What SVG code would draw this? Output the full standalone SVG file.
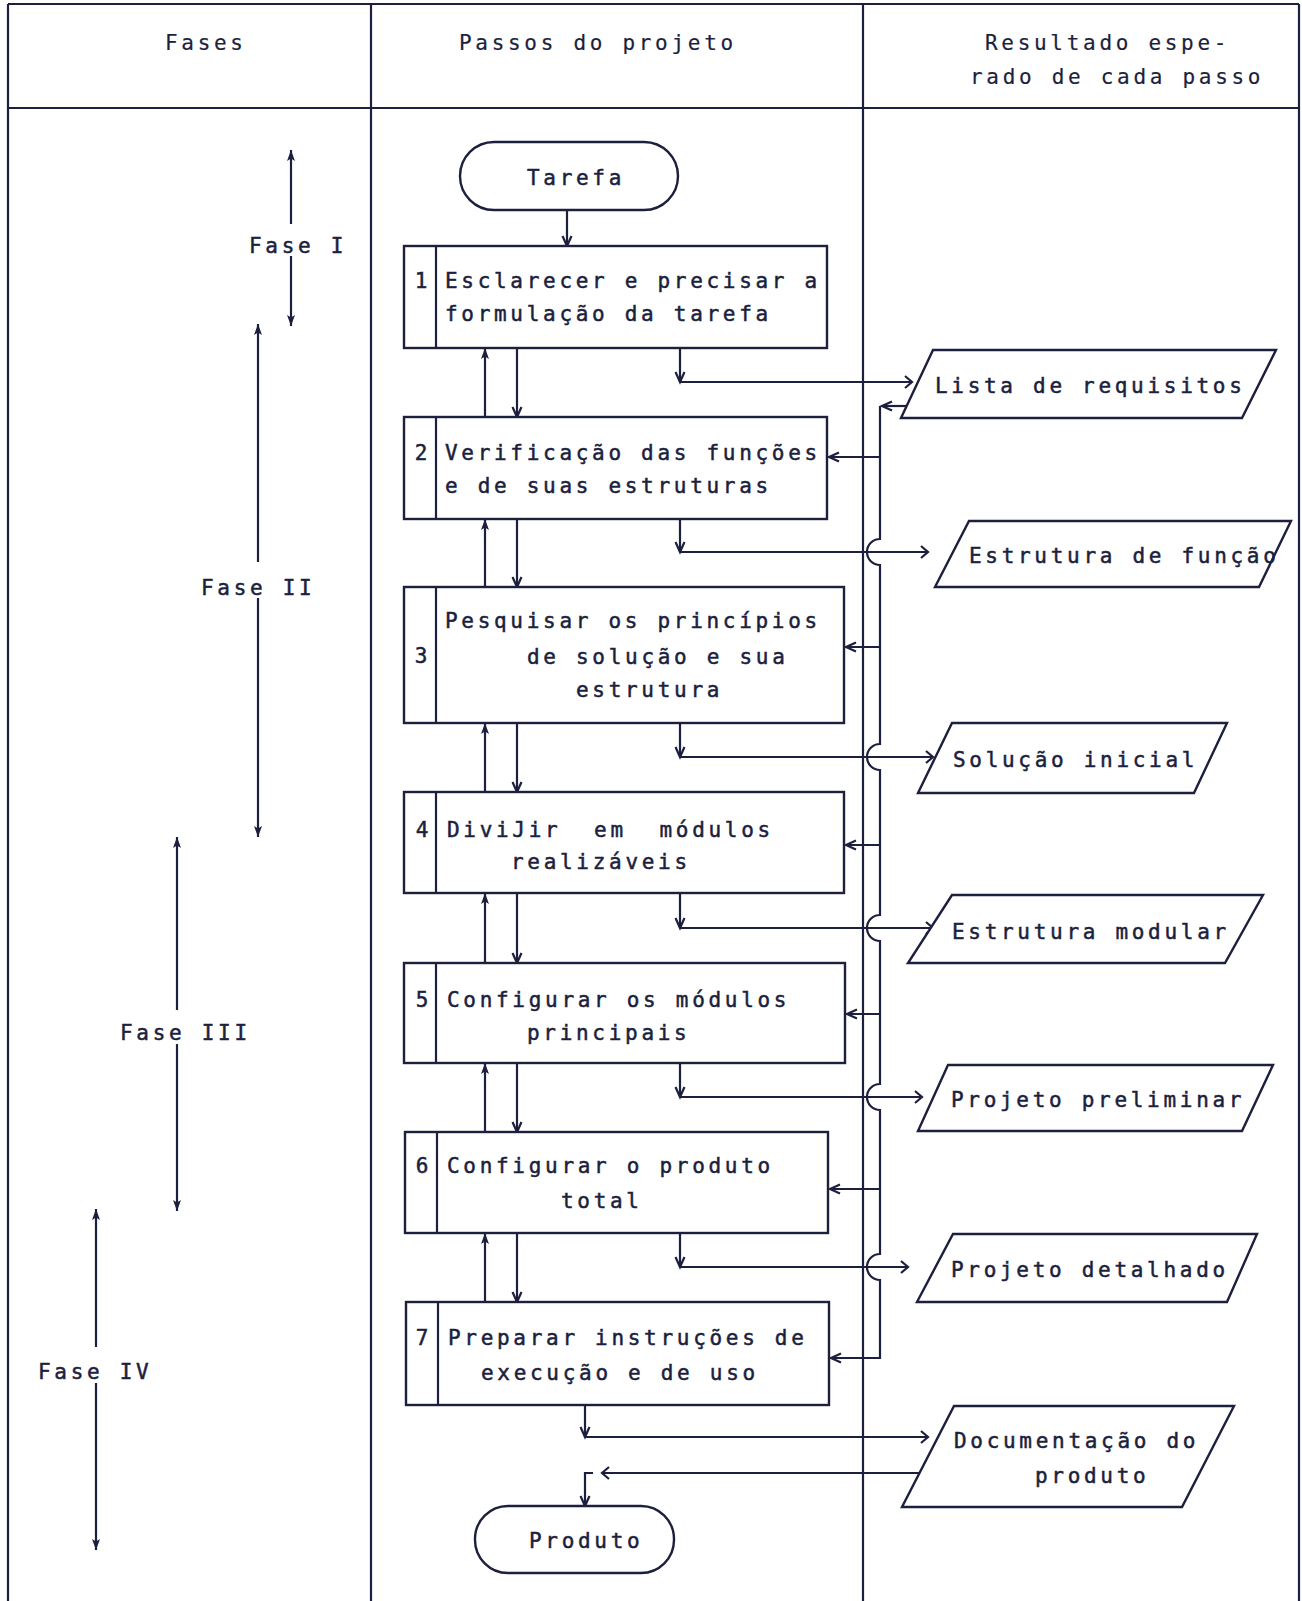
<svg xmlns="http://www.w3.org/2000/svg" width="1302" height="1601" viewBox="0 0 1302 1601">
<style>
.t{font-family:"DejaVu Sans Mono","Liberation Mono",monospace;font-size:21px;letter-spacing:3.7px;fill:#1c1f3d;stroke:#1c1f3d;stroke-width:0.5px}
.h{stroke-width:0.2px}
.n{font-family:"DejaVu Sans Mono","Liberation Mono",monospace;font-size:21px;fill:#1c1f3d;stroke:#1c1f3d;stroke-width:0.5px;text-anchor:middle}
.ln{stroke:#1c1f3d;stroke-width:2.2;fill:none}
.bx{fill:#fff;stroke:#1c1f3d;stroke-width:2.4}
.grid{stroke:#1c1f3d;stroke-width:2.2;fill:none}
.up{marker-end:url(#ah)}
.dn{marker-end:url(#op)}
.ch{marker-end:url(#chev)}
</style>
<defs>
<marker id="ah" markerUnits="userSpaceOnUse" viewBox="0 0 11 9" refX="11" refY="4.5" markerWidth="11" markerHeight="9" orient="auto" overflow="visible">
<path d="M0,0.5 L11,4.5 L0,8.5 L2.5,4.5 z" fill="#1c1f3d"/>
</marker>
<marker id="op" markerUnits="userSpaceOnUse" viewBox="0 0 10 10" refX="10" refY="5" markerWidth="10" markerHeight="10" orient="auto" overflow="visible">
<path d="M0,0.5 L10,5 L0,9.5" fill="none" stroke="#1c1f3d" stroke-width="2.2"/>
</marker>
<marker id="chev" markerUnits="userSpaceOnUse" viewBox="0 0 7 12" refX="7" refY="6" markerWidth="7" markerHeight="12" orient="auto" overflow="visible">
<path d="M0,0 L7,6 L0,12" fill="none" stroke="#1c1f3d" stroke-width="2.2"/>
</marker>
</defs>
<rect width="1302" height="1601" fill="#fff"/>

<g id="table">
<path class="grid" d="M8,4 L1299,4 M8,108 L1299,108 M8,4 L8,1601 M371,4 L371,1601 M863,4 L863,1601 M1299,4 L1299,1601"/>
<text class="t h" x="165" y="50">Fases</text>
<text class="t h" x="459" y="50">Passos do projeto</text>
<text class="t h" x="985" y="50">Resultado espe-</text>
<text class="t h" x="970" y="84">rado de cada passo</text>
</g>

<g id="phases">
<text class="t" x="249" y="253">Fase I</text>
<text class="t" x="201" y="595">Fase II</text>
<text class="t" x="120" y="1040">Fase III</text>
<text class="t" x="38" y="1379">Fase IV</text>
<path class="ln up" d="M291,224 L291,150"/>
<path class="ln up" d="M291,256 L291,326"/>
<path class="ln up" d="M258,562 L258,324"/>
<path class="ln up" d="M258,598 L258,837"/>
<path class="ln up" d="M177,1010 L177,837"/>
<path class="ln up" d="M177,1044 L177,1211"/>
<path class="ln up" d="M96,1347 L96,1209"/>
<path class="ln up" d="M96,1383 L96,1550"/>
</g>

<g id="connectors">
<path class="ln dn" d="M567,210 L567,246"/>
<path class="ln up" d="M485,417 L485,348"/><path class="ln dn" d="M517,348 L517,417"/>
<path class="ln up" d="M485,587 L485,519"/><path class="ln dn" d="M517,519 L517,587"/>
<path class="ln up" d="M485,792 L485,723"/><path class="ln dn" d="M517,723 L517,792"/>
<path class="ln up" d="M485,963 L485,893"/><path class="ln dn" d="M517,893 L517,963"/>
<path class="ln up" d="M485,1132 L485,1063"/><path class="ln dn" d="M517,1063 L517,1132"/>
<path class="ln up" d="M485,1302 L485,1233"/><path class="ln dn" d="M517,1233 L517,1302"/>

<path class="ln dn" d="M680,348 L680,382"/><path class="ln ch" d="M680,382 L912,382"/>
<path class="ln dn" d="M680,519 L680,552"/><path class="ln ch" d="M680,552 L928,552"/>
<path class="ln dn" d="M680,723 L680,757"/><path class="ln ch" d="M680,757 L933,757"/>
<path class="ln dn" d="M680,893 L680,928"/><path class="ln ch" d="M680,928 L933,928"/>
<path class="ln dn" d="M680,1063 L680,1097"/><path class="ln ch" d="M680,1097 L922,1097"/>
<path class="ln dn" d="M680,1233 L680,1267"/><path class="ln ch" d="M680,1267 L908,1267"/>
<path class="ln dn" d="M585,1405 L585,1437"/><path class="ln ch" d="M585,1437 L928,1437"/>

<path class="ln dn" d="M907,406 L882,406"/>
<path class="ln dn" d="M880,406 L880,539 A13,13 0 0 0 880,565 L880,744 A13,13 0 0 0 880,770 L880,915 A13,13 0 0 0 880,941 L880,1084 A13,13 0 0 0 880,1110 L880,1254 A13,13 0 0 0 880,1280 L880,1358 L831,1358"/>
<path class="ln dn" d="M880,457 L829,457"/>
<path class="ln dn" d="M880,647 L846,647"/>
<path class="ln dn" d="M880,845 L846,845"/>
<path class="ln dn" d="M880,1014 L847,1014"/>
<path class="ln dn" d="M880,1189 L830,1189"/>

<path class="ln ch" d="M920,1473 L602,1473"/>
<path class="ln dn" d="M593,1473 L585,1473 L585,1506"/>
</g>

<g id="tarefa">
<rect class="bx" x="460" y="142" width="218" height="68" rx="34"/>
<text class="t" x="527" y="185">Tarefa</text>
</g>

<g id="step1">
<rect class="bx" x="404" y="246" width="423" height="102"/>
<path class="ln" d="M436,246 L436,348"/>
<text class="n" x="421" y="288">1</text>
<text class="t" x="445" y="288">Esclarecer e precisar a</text>
<text class="t" x="445" y="321">formulação da tarefa</text>
</g>

<g id="step2">
<rect class="bx" x="404" y="417" width="423" height="102"/>
<path class="ln" d="M436,417 L436,519"/>
<text class="n" x="421" y="460">2</text>
<text class="t" x="445" y="460">Verificação das funções</text>
<text class="t" x="445" y="493">e de suas estruturas</text>
</g>

<g id="step3">
<rect class="bx" x="404" y="587" width="440" height="136"/>
<path class="ln" d="M436,587 L436,723"/>
<text class="n" x="421" y="663">3</text>
<text class="t" x="445" y="628">Pesquisar os princípios</text>
<text class="t" x="527" y="664">de solução e sua</text>
<text class="t" x="576" y="697">estrutura</text>
</g>

<g id="step4">
<rect class="bx" x="404" y="792" width="440" height="101"/>
<path class="ln" d="M436,792 L436,893"/>
<text class="n" x="422" y="837">4</text>
<text class="t" x="447" y="837" xml:space="preserve">DiviJir  em  módulos</text>
<text class="t" x="511" y="869">realizáveis</text>
</g>

<g id="step5">
<rect class="bx" x="404" y="963" width="441" height="100"/>
<path class="ln" d="M436,963 L436,1063"/>
<text class="n" x="422" y="1007">5</text>
<text class="t" x="447" y="1007">Configurar os módulos</text>
<text class="t" x="527" y="1040">principais</text>
</g>

<g id="step6">
<rect class="bx" x="405" y="1132" width="423" height="101"/>
<path class="ln" d="M437,1132 L437,1233"/>
<text class="n" x="422" y="1173">6</text>
<text class="t" x="447" y="1173">Configurar o produto</text>
<text class="t" x="561" y="1208">total</text>
</g>

<g id="step7">
<rect class="bx" x="406" y="1302" width="423" height="103"/>
<path class="ln" d="M438,1302 L438,1405"/>
<text class="n" x="422" y="1345">7</text>
<text class="t" x="448" y="1345">Preparar instruções de</text>
<text class="t" x="481" y="1380">execução e de uso</text>
</g>

<g id="produto">
<rect class="bx" x="475" y="1506" width="199" height="67" rx="33"/>
<text class="t" x="529" y="1548">Produto</text>
</g>

<g id="res1">
<polygon class="bx" points="933,350 1276,350 1242,418 901,418"/>
<text class="t" x="935" y="393">Lista de requisitos</text>
</g>
<g id="res2">
<polygon class="bx" points="969,521 1291,521 1259,587 935,587"/>
<text class="t" x="969" y="563">Estrutura de função</text>
</g>
<g id="res3">
<polygon class="bx" points="952,723 1227,723 1194,793 918,793"/>
<text class="t" x="953" y="767">Solução inicial</text>
</g>
<g id="res4">
<polygon class="bx" points="952,895 1263,895 1225,963 908,963"/>
<text class="t" x="952" y="939">Estrutura modular</text>
</g>
<g id="res5">
<polygon class="bx" points="948,1065 1273,1065 1242,1131 918,1131"/>
<text class="t" x="951" y="1107">Projeto preliminar</text>
</g>
<g id="res6">
<polygon class="bx" points="953,1234 1257,1234 1227,1302 917,1302"/>
<text class="t" x="951" y="1277">Projeto detalhado</text>
</g>
<g id="res7">
<polygon class="bx" points="954,1406 1234,1406 1182,1507 902,1507"/>
<text class="t" x="954" y="1448">Documentação do</text>
<text class="t" x="1035" y="1483">produto</text>
</g>
</svg>
